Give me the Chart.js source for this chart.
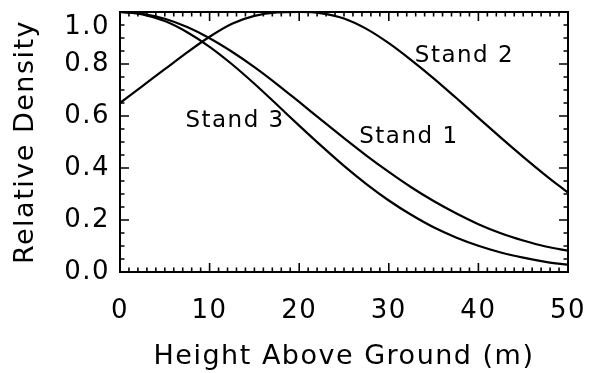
<!DOCTYPE html>
<html><head><meta charset="utf-8">
<script src="https://cdn.jsdelivr.net/npm/chart.js@4.4.1/dist/chart.umd.min.js"></script>
<style>html,body{margin:0;padding:0;background:#fff}#wrap{width:600px;height:373px}</style>
</head><body><div id="wrap"><canvas id="c" width="600" height="373"></canvas></div>
<script>
// ---- data ----
const heights = [0,2.5,5,7.5,10,12.5,15,17.5,20,22.5,25,27.5,30,32.5,35,37.5,40,42.5,45,47.5,50];
const stand1  = [1.0,0.993,0.974,0.942,0.899,0.847,0.788,0.723,0.654,0.584,0.515,0.448,0.385,0.326,0.273,0.226,0.184,0.149,0.121,0.098,0.082];
const stand2  = [0.65,0.715,0.78,0.845,0.905,0.955,0.985,0.998,1.0,0.995,0.975,0.935,0.88,0.815,0.745,0.67,0.593,0.517,0.443,0.372,0.305];
const stand3  = [1.0,0.991,0.965,0.922,0.866,0.799,0.724,0.644,0.563,0.484,0.408,0.338,0.275,0.220,0.172,0.133,0.101,0.075,0.055,0.039,0.028];
const seriesNames = ['Stand 1','Stand 2','Stand 3'];
const xTickValues = [0,10,20,30,40,50];
const yTickValues = [0,0.2,0.4,0.6,0.8,1.0];
const yTickLabels = ['0.0','0.2','0.4','0.6','0.8','1.0'];
const xTitle = 'Height Above Ground (m)';
const yTitle = 'Relative Density';

const FONT = "'DejaVu Sans', sans-serif";
const toPts = arr => heights.map((h,i)=>({x:h,y:arr[i]}));

const framePlugin = {
  id:'frameTicks',
  beforeDraw(chart){ chart.ctx.letterSpacing = '1.5px'; },
  afterDraw(chart, args, opts){
    const {ctx, chartArea:{left,right,top,bottom}, scales:{x,y}} = chart;
    ctx.save();
    ctx.strokeStyle = '#000';
    ctx.lineWidth = 2;
    ctx.strokeRect(left, top, right-left, bottom-top);
    ctx.lineWidth = 1.6;
    ctx.beginPath();
    for (let v=0; v<=50; v+=1){
      const px = x.getPixelForValue(v);
      const L = (v%10===0) ? 9 : 4.5;
      ctx.moveTo(px,bottom); ctx.lineTo(px,bottom-L);
      ctx.moveTo(px,top); ctx.lineTo(px,top+L);
    }
    for (let i=0; i<=20; i++){
      const py = y.getPixelForValue(i*0.05);
      const L = (i%4===0) ? 9 : 4.5;
      ctx.moveTo(left,py); ctx.lineTo(left+L,py);
      ctx.moveTo(right,py); ctx.lineTo(right-L,py);
    }
    ctx.stroke();
    ctx.fillStyle = '#000';
    ctx.font = "23px " + FONT;
    ctx.textAlign = 'left';
    ctx.textBaseline = 'middle';
    for (const lab of opts.labels){
      ctx.fillText(lab.text, x.getPixelForValue(lab.x), y.getPixelForValue(lab.y));
    }
    ctx.restore();
  }
};

const lineStyle = {borderColor:'#000', borderWidth:2.2, pointRadius:0, cubicInterpolationMode:'monotone', fill:false};
const zeroPad = s => { s.paddingTop = 0; s.paddingBottom = 0; s.paddingLeft = 0; s.paddingRight = 0; };

new Chart(document.getElementById('c'), {
  type:'line',
  data:{
    datasets:[
      Object.assign({label:seriesNames[0], data:toPts(stand1)}, lineStyle),
      Object.assign({label:seriesNames[1], data:toPts(stand2)}, lineStyle),
      Object.assign({label:seriesNames[2], data:toPts(stand3)}, lineStyle)
    ]
  },
  options:{
    responsive:false,
    animation:false,
    layout:{autoPadding:false, padding:{left:0,right:32,top:12,bottom:0}},
    plugins:{
      legend:{display:false},
      tooltip:{enabled:false},
      frameTicks:{labels:[
        {text:seriesNames[1], x:32.9, y:0.83},
        {text:seriesNames[2], x:7.3, y:0.58},
        {text:seriesNames[0], x:26.7, y:0.52}
      ]}
    },
    scales:{
      x:{
        type:'linear', min:0, max:50,
        afterBuildTicks(s){ s.ticks = xTickValues.map(v=>({value:v})); },
        afterFit(s){ s.height = 101; zeroPad(s); },
        grid:{display:false, drawTicks:false},
        border:{display:false},
        ticks:{color:'#000', padding:24, maxRotation:0, autoSkip:false, font:{family:FONT,size:26}},
        title:{display:true, text:xTitle, color:'#000', padding:{top:0,bottom:0}, font:{family:FONT,size:27}}
      },
      y:{
        type:'linear', min:0, max:1,
        afterBuildTicks(s){ s.ticks = yTickValues.map(v=>({value:v})); },
        afterFit(s){ s.width = 120; zeroPad(s); },
        grid:{display:false, drawTicks:false},
        border:{display:false},
        ticks:{color:'#000', padding:10, autoSkip:false, font:{family:FONT,size:26},
          callback(v){ const i = yTickValues.indexOf(v); const t = i>=0 ? yTickLabels[i] : ''; return v===1 ? ['', t] : t; }},
        title:{display:true, text:yTitle, color:'#000', padding:{top:10,bottom:0}, font:{family:FONT,size:27}}
      }
    }
  },
  plugins:[framePlugin]
});
</script>
</body></html>
